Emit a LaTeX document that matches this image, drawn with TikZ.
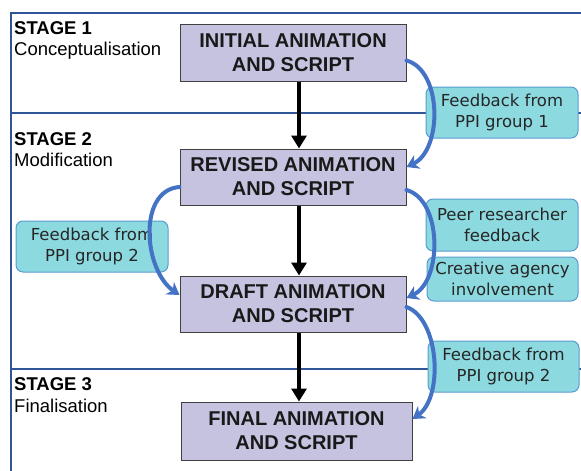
\documentclass[tikz,border=0pt]{standalone}
\usepackage{fontspec}
\setmainfont{Liberation Sans}
\newfontfamily\fbfont{DejaVu Sans}
\usetikzlibrary{arrows.meta,calc}
\definecolor{frameblue}{HTML}{2F5597}
\definecolor{boxfill}{HTML}{C5C3E0}
\definecolor{boxline}{HTML}{404040}
\definecolor{fbfill}{HTML}{8CDAE0}
\definecolor{fbline}{HTML}{5A9AD0}
\definecolor{curveblue}{HTML}{4472C4}
\tikzset{
  stagebox/.style={draw=boxline, line width=1pt, fill=boxfill, inner sep=0pt, align=center,
    font=\fontsize{20}{24}\selectfont\bfseries, text=black!90},
  fbbox/.style={draw=fbline, line width=1pt, fill=fbfill, rounded corners=7pt, inner sep=0pt,
    align=center, font=\fbfont\fontsize{16.5}{21.5}\selectfont, text=black!85},
  stagetitle/.style={anchor=base west, inner sep=0pt, font=\fontsize{18.5}{22}\selectfont\bfseries},
  stagesub/.style={anchor=base west, inner sep=0pt, font=\fontsize{18.5}{22}\selectfont},
  frameline/.style={draw=frameblue, line width=2pt},
  downarrow/.style={draw=black, line width=4.5pt, -{Triangle[width=15pt,length=13pt]}},
  fbarrow/.style={draw=curveblue, line width=4pt, line cap=round, -{Stealth[width=15pt,length=12pt]}}
}
\begin{document}
\begin{tikzpicture}[x=1pt,y=-1pt]
\useasboundingbox (0,0) rectangle (581,471);
% frame
\draw[frameline] (581,13) -- (11,13) -- (11,471);
\draw[frameline] (11,113) -- (581,113);
\draw[frameline] (11,369) -- (581,369);
% stage labels
\node[stagetitle] (s1) at (14,34.3) {STAGE 1};
\node[stagesub] (s1b) at (14,55) {Conceptualisation};
\node[stagetitle] (s2) at (14,145) {STAGE 2};
\node[stagesub] (s2b) at (14,166) {Modification};
\node[stagetitle] (s3) at (14,390) {STAGE 3};
\node[stagesub] (s3b) at (14,412) {Finalisation};
% main boxes
\node[stagebox, minimum width=226pt, minimum height=57pt] (b1) at (293,52.5) {INITIAL ANIMATION\\AND SCRIPT};
\node[stagebox, minimum width=226pt, minimum height=56pt] (b2) at (293,177) {REVISED ANIMATION\\AND SCRIPT};
\node[stagebox, minimum width=226pt, minimum height=56pt] (b3) at (293,304) {DRAFT ANIMATION\\AND SCRIPT};
\node[stagebox, minimum width=231pt, minimum height=58pt] (b4) at (296.5,431) {FINAL ANIMATION\\AND SCRIPT};
% feedback boxes
\node[fbbox, minimum width=152pt, minimum height=51pt] (f1) at (502,112.5) {Feedback from\\PPI group 1};
\node[fbbox, minimum width=152pt, minimum height=51pt] (f2) at (92,246.5) {Feedback from\\PPI group 2};
\node[fbbox, minimum width=152pt, minimum height=52pt] (f3) at (502,225) {Peer researcher\\feedback};
\node[fbbox, minimum width=151pt, minimum height=44pt] (f4) at (502.5,279) {Creative agency\\involvement};
\node[fbbox, minimum width=151pt, minimum height=51pt] (f5) at (503.5,366.5) {Feedback from\\PPI group 2};
% straight arrows
\draw[downarrow] ([xshift=6pt]b1.south) -- ([xshift=6pt]b2.north);
\draw[downarrow] ([xshift=6pt]b2.south) -- ([xshift=6pt]b3.north);
\draw[downarrow] ([xshift=6pt]b3.south) -- ([xshift=6pt]b3.south |- b4.north);
% curved feedback arrows
\draw[fbarrow] ([yshift=-8pt]b1.east) .. controls +(36pt,-10pt) and +(36pt,17pt) .. ([yshift=10pt]b2.east);
\draw[fbarrow] ([yshift=-10pt]b2.west) .. controls +(-42pt,-3pt) and +(-36pt,25pt) .. ([yshift=9pt]b3.west);
\draw[fbarrow] ([yshift=-13pt]b2.east) .. controls +(36pt,-10pt) and +(36pt,17pt) .. ([yshift=6pt]b3.east);
\draw[fbarrow] ([yshift=-3pt]b3.east) .. controls +(33pt,-12pt) and +(31pt,22pt) .. ([yshift=12pt]b4.east);
\end{tikzpicture}
\end{document}
